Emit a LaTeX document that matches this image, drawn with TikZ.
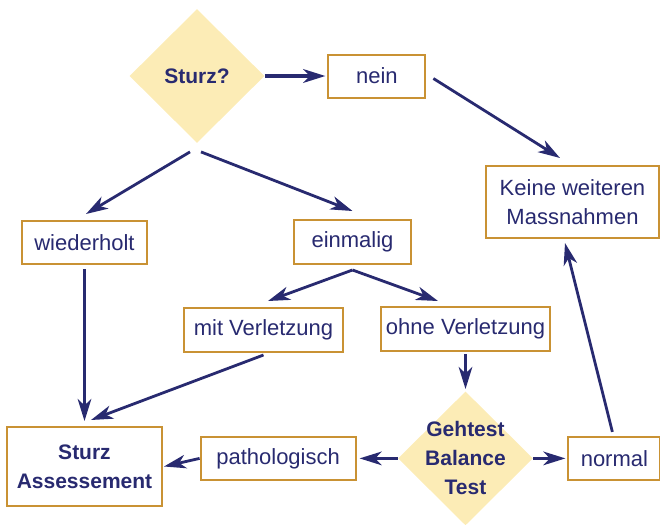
\documentclass[tikz,border=0pt]{standalone}
\usepackage{fontspec}
\setmainfont{Liberation Sans}
\usetikzlibrary{arrows.meta,positioning,shapes.geometric}
\definecolor{navy}{RGB}{40,42,112}
\definecolor{gold}{RGB}{201,146,52}
\definecolor{cream}{RGB}{252,236,182}

\begin{document}
\begin{tikzpicture}[x=0.5pt,y=-0.5pt,>={Stealth[length=11pt,width=6.8pt,inset=3.2pt]},
  box/.style={draw=gold,line width=1pt,fill=white,text=navy,inner sep=0pt,minimum height=21.5pt,
    align=center,font=\fontsize{11}{14.5}\selectfont},
  decision/.style={diamond,fill=cream,text=navy,inner sep=-2.8pt,minimum width=67.5pt,minimum height=67pt,
    align=center,font=\fontsize{10.5}{14.5}\selectfont\bfseries},
  flow/.style={->,color=navy,line width=1.4pt}]
  \useasboundingbox (0,0) rectangle (660,525);
  \node[decision] (sturz) at (197,76) {Sturz?};
  \node[box,minimum width=48.5pt] (nein) [right=31.25pt of sturz] {nein};
  \node[box,minimum width=86.5pt,minimum height=36pt] (keine) at (572.5,202) {Keine weiteren\\Massnahmen};
  \node[box,minimum width=62.5pt] (wiederholt) at (84.5,242.5) {wiederholt};
  \node[box,minimum width=58.5pt,minimum height=22pt] (einmalig) at (352.5,242) {einmalig};
  \node[box,minimum width=79.5pt,minimum height=22pt] (mit) at (263.5,330) {mit Verletzung};
  \node[box,minimum width=84.5pt,minimum height=22pt] (ohne) at (465.5,329) {ohne Verletzung};
  \node[decision] (gehtest) [below=19.5pt of ohne] {Gehtest\\Balance\\Test};
  \node[box,minimum width=77.5pt] (patho) [left=20.5pt of gehtest] {pathologisch};
  \node[box,minimum width=46pt] (normal) [right=17pt of gehtest] {normal};
  \node[box,minimum width=77.5pt,minimum height=39.5pt,font=\fontsize{10.5}{14.5}\selectfont\bfseries]
    (assess) [below=80.5pt of wiederholt] {Sturz\\Assessement};
  \path[flow]
  (sturz.east) edge[line width=1.8pt] ([xshift=-1pt]nein.west)
  ([xshift=3.5pt,yshift=-1.25pt]nein.east) edge ([xshift=-6.25pt,yshift=3.5pt]keine.north)
  ([xshift=-3.5pt,yshift=-4.25pt]sturz.south) edge ([xshift=0.75pt,yshift=3pt]wiederholt.north)
  ([xshift=2pt,yshift=-4.25pt]sturz.south) edge ([yshift=4pt]einmalig.north)
  ([yshift=-2.5pt]einmalig.south) edge ([xshift=2.25pt,yshift=3pt]mit.north)
  ([yshift=-2.5pt]einmalig.south) edge ([xshift=-13.75pt,yshift=2.5pt]ohne.north)
  ([yshift=-2pt]wiederholt.south) edge ([yshift=2.5pt]assess.north)
  ([yshift=-1pt]mit.south) edge ([xshift=3.25pt,yshift=3pt]assess.north)
  ([yshift=-1pt]ohne.south) edge ([yshift=1pt]gehtest.north)
  (gehtest.west) edge ([xshift=1.5pt]patho.east)
  (patho.west) edge ([xshift=0.5pt]assess.east)
  (gehtest.east) edge ([xshift=-1pt]normal.west)
  ([xshift=-1pt,yshift=2pt]normal.north) edge ([xshift=-3.75pt,yshift=-2pt]keine.south);
\end{tikzpicture}
\end{document}
